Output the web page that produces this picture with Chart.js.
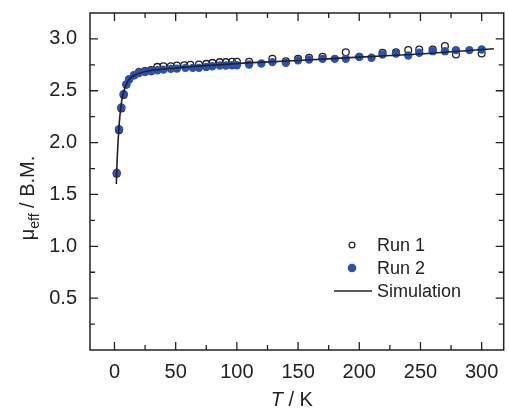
<!DOCTYPE html>
<html>
<head>
<meta charset="utf-8">
<script src="https://cdn.jsdelivr.net/npm/chart.js"></script>
<style>
  html, body { margin: 0; padding: 0; background: #fff; }
  #wrap { width: 509px; height: 412px; }
</style>
</head>
<body>
<div id="wrap"><canvas id="chart"></canvas></div>
<script>
// data
const run1T  = [1.8, 3.7, 5.6, 7.5, 9.7, 12, 16, 20, 25, 30, 35, 40, 46, 51, 57, 62, 69, 75, 80, 86, 91, 96, 100, 110, 129, 140, 150, 159, 170, 189, 200, 219, 230, 240, 249, 260, 270, 279, 300];
const run1Mu = [1.70, 2.12, 2.33, 2.46, 2.56, 2.61, 2.65, 2.68, 2.69, 2.70, 2.730, 2.737, 2.737, 2.743, 2.746, 2.750, 2.753, 2.759, 2.769, 2.776, 2.776, 2.779, 2.779, 2.779, 2.808, 2.785, 2.808, 2.818, 2.827, 2.872, 2.827, 2.866, 2.872, 2.892, 2.898, 2.898, 2.931, 2.850, 2.859];

const run2T  = [1.8, 3.7, 5.6, 7.5, 9.7, 12, 16, 20, 25, 30, 35, 40, 46, 51, 58, 64, 69, 75, 80, 86, 91, 96, 100, 110, 120, 129, 140, 150, 159, 170, 180, 189, 200, 210, 219, 230, 240, 249, 260, 270, 279, 290, 300];
const run2Mu = [1.71, 2.13, 2.34, 2.47, 2.56, 2.61, 2.65, 2.67, 2.68, 2.688, 2.698, 2.704, 2.711, 2.714, 2.721, 2.721, 2.721, 2.730, 2.737, 2.743, 2.743, 2.746, 2.746, 2.753, 2.763, 2.776, 2.769, 2.795, 2.801, 2.808, 2.808, 2.808, 2.827, 2.818, 2.850, 2.859, 2.840, 2.866, 2.882, 2.882, 2.892, 2.892, 2.898];

const simT  = [1.5, 2, 3, 4, 5, 6, 8, 10, 12, 15, 20, 30, 50, 100, 150, 200, 250, 310];
const simMu = [1.60, 1.78, 2.02, 2.20, 2.32, 2.41, 2.51, 2.57, 2.61, 2.64, 2.67, 2.695, 2.72, 2.762, 2.792, 2.824, 2.855, 2.905];

const xTicks = [0, 50, 100, 150, 200, 250, 300];
const xMinor = [25, 75, 125, 175, 225, 275];
const yTicks = [0.5, 1.0, 1.5, 2.0, 2.5, 3.0];
const yMinor = [0.25, 0.75, 1.25, 1.75, 2.25, 2.75];

const FONT = '"Liberation Sans", Arial, sans-serif';
const INK = '#222';
const BLUE = '#2c50b6';

function pts(xs, ys) {
  return xs.map((x, i) => ({ x: x, y: ys[i] }));
}

// frame + inward ticks on all four sides
const framePlugin = {
  id: 'frame',
  afterDatasetsDraw(chart) {
    const ctx = chart.ctx;
    const a = chart.chartArea;
    const xs = chart.scales.x, ys = chart.scales.y;
    ctx.save();
    ctx.strokeStyle = INK;
    ctx.lineWidth = 1.5;
    ctx.strokeRect(a.left, a.top, a.right - a.left, a.bottom - a.top);
    ctx.lineWidth = 1.3;
    ctx.beginPath();
    const tick = (vals, len) => {
      vals.forEach(v => {
        const px = xs.getPixelForValue(v);
        ctx.moveTo(px, a.bottom); ctx.lineTo(px, a.bottom - len);
        ctx.moveTo(px, a.top); ctx.lineTo(px, a.top + len);
      });
    };
    const ytick = (vals, len) => {
      vals.forEach(v => {
        const py = ys.getPixelForValue(v);
        ctx.moveTo(a.left, py); ctx.lineTo(a.left + len, py);
        ctx.moveTo(a.right, py); ctx.lineTo(a.right - len, py);
      });
    };
    tick(xTicks, 8); tick(xMinor, 5);
    ytick(yTicks, 8); ytick(yMinor, 5);
    ctx.stroke();
    ctx.restore();
  }
};

// axis titles with italic T and subscript
const titlePlugin = {
  id: 'titles',
  afterDraw(chart) {
    const ctx = chart.ctx;
    const a = chart.chartArea;
    ctx.save();
    ctx.fillStyle = INK;
    ctx.textBaseline = 'alphabetic';
    // x title: T / K
    const cx = (a.left + a.right) / 2 - 5;
    ctx.font = 'italic 20px ' + FONT;
    const wT = ctx.measureText('T').width;
    ctx.font = '20px ' + FONT;
    const wR = ctx.measureText(' / K').width;
    let x0 = cx - (wT + wR) / 2;
    ctx.font = 'italic 20px ' + FONT;
    ctx.fillText('T', x0, 406);
    ctx.font = '20px ' + FONT;
    ctx.fillText(' / K', x0 + wT, 406);

    // y title: μeff / B.M.
    ctx.translate(34, 198);
    ctx.rotate(-Math.PI / 2);
    ctx.font = '20px ' + FONT;
    const wMu = ctx.measureText('\u03bc').width;
    const wRest = ctx.measureText(' / B.M.').width;
    ctx.font = '14px ' + FONT;
    const wSub = ctx.measureText('eff').width;
    let y0 = -(wMu + wSub + wRest) / 2;
    ctx.font = '20px ' + FONT;
    ctx.fillText('\u03bc', y0, 0);
    ctx.font = '14px ' + FONT;
    ctx.fillText('eff', y0 + wMu, 5);
    ctx.font = '20px ' + FONT;
    ctx.fillText(' / B.M.', y0 + wMu + wSub, 0);
    ctx.restore();
  }
};

// legend drawn inside the plot, lower right
const legendPlugin = {
  id: 'innerLegend',
  afterDraw(chart) {
    const ctx = chart.ctx;
    const ds = chart.data.datasets;
    ctx.save();
    ctx.font = '18px ' + FONT;
    ctx.fillStyle = INK;
    ctx.textBaseline = 'middle';
    const rows = [245, 268, 291];
    ds.forEach((d, i) => {
      const y = rows[i];
      if (d.showLine) {
        ctx.strokeStyle = d.borderColor;
        ctx.lineWidth = 1.6;
        ctx.beginPath();
        ctx.moveTo(334, y); ctx.lineTo(372, y);
        ctx.stroke();
      } else {
        ctx.beginPath();
        ctx.arc(352, y, d.pointRadius - 0.5, 0, Math.PI * 2);
        ctx.fillStyle = d.pointBackgroundColor;
        ctx.fill();
        ctx.lineWidth = d.pointBorderWidth;
        ctx.strokeStyle = d.pointBorderColor;
        ctx.stroke();
      }
      ctx.fillStyle = INK;
      ctx.fillText(d.label, 377, y + 1);
    });
    ctx.restore();
  }
};

new Chart(document.getElementById('chart'), {
  type: 'scatter',
  data: {
    datasets: [
      {
        label: 'Run 1',
        data: pts(run1T, run1Mu),
        pointRadius: 3.4,
        pointBackgroundColor: 'rgba(255,255,255,0)',
        pointBorderColor: INK,
        pointBorderWidth: 1.3,
        order: 3
      },
      {
        label: 'Run 2',
        data: pts(run2T, run2Mu),
        pointRadius: 4.2,
        pointBackgroundColor: BLUE,
        pointBorderColor: BLUE,
        pointBorderWidth: 0,
        order: 2
      },
      {
        label: 'Simulation',
        data: pts(simT, simMu),
        showLine: true,
        pointRadius: 0,
        borderColor: INK,
        borderWidth: 1.6,
        cubicInterpolationMode: 'monotone',
        order: 1
      }
    ]
  },
  options: {
    responsive: true,
    maintainAspectRatio: false,
    animation: false,
    layout: { padding: { left: 0, right: 4, top: 13, bottom: 0 } },
    plugins: {
      legend: { display: false },
      tooltip: { enabled: false }
    },
    scales: {
      x: {
        type: 'linear',
        min: -20,
        max: 318,
        grid: { display: false, drawTicks: false },
        border: { display: false },
        afterBuildTicks: s => { s.ticks = xTicks.map(v => ({ value: v })); },
        afterFit: s => { s.height = 62; s.paddingLeft = 0; s.paddingRight = 0; },
        ticks: {
          color: INK,
          padding: 10,
          maxRotation: 0,
          font: { family: FONT, size: 20 }
        }
      },
      y: {
        type: 'linear',
        min: 0,
        max: 3.25,
        grid: { display: false, drawTicks: false },
        border: { display: false },
        afterBuildTicks: s => { s.ticks = yTicks.map(v => ({ value: v })); },
        afterFit: s => { s.width = 90; s.paddingTop = 0; s.paddingBottom = 0; },
        ticks: {
          color: INK,
          padding: 13,
          font: { family: FONT, size: 20 },
          callback: v => Number(v).toFixed(1)
        }
      }
    }
  },
  plugins: [framePlugin, titlePlugin, legendPlugin]
});
</script>
</body>
</html>
